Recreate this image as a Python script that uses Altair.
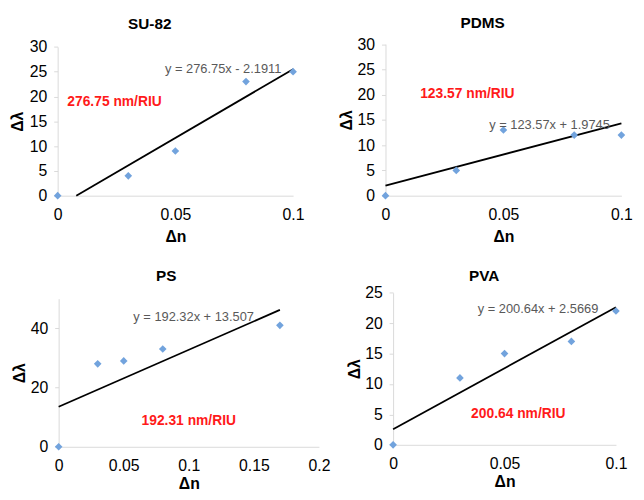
import altair as alt
import pandas as pd

# ---------------- data ----------------
materials = ["SU-82", "PDMS", "PS", "PVA"]
dn_values = [
    [0, 0.03, 0.05, 0.08, 0.1],
    [0, 0.03, 0.05, 0.08, 0.1],
    [0, 0.03, 0.05, 0.08, 0.17],
    [0, 0.03, 0.05, 0.08, 0.1],
]
dl_values = [
    [0, 4, 9, 23, 25],
    [0, 5, 13, 12, 12],
    [0, 28, 29, 33, 41],
    [0, 11, 15, 17, 22],
]
equations = [
    "y = 276.75x - 2.1911",
    "y = 123.57x + 1.9745",
    "y = 192.32x + 13.507",
    "y = 200.64x + 2.5669",
]
sensitivities = ["276.75 nm/RIU", "123.57 nm/RIU", "192.31 nm/RIU", "200.64 nm/RIU"]
x_domains = [[0, 0.1], [0, 0.1], [0, 0.2], [0, 0.1]]
y_domains = [[0, 30], [0, 30], [0, 50], [0, 25]]
x_ticks = [
    [0, 0.05, 0.1],
    [0, 0.05, 0.1],
    [0, 0.05, 0.1, 0.15, 0.2],
    [0, 0.05, 0.1],
]
y_ticks = [
    [0, 5, 10, 15, 20, 25, 30],
    [0, 5, 10, 15, 20, 25, 30],
    [0, 20, 40],
    [0, 5, 10, 15, 20, 25],
]
# trendline drawn range (x)
trend_extents = [[0.0079, 0.1], [0, 0.1], [0, 0.17], [0, 0.1]]
# annotation anchors in data units
title_pos = [(0.0391, 34.7), (0.0412, 34.2), (0.0827, 57.5), (0.0409, 27.7)]
eq_pos = [(0.0456, 25.5), (0.044, 14.0), (0.0574, 43.7), (0.038, 22.4)]
sens_pos = [(0.0041, 18.9), (0.0147, 20.2), (0.0637, 8.7), (0.035, 5.1)]

# ---------------- layout ----------------
W, H = 636, 484
x_ranges = [[50.3, 288.7], [382.3, 621.2], [51.3, 314.9], [390, 615.7]]
y_ranges = [[187, 36.3], [187, 33.5], [441.3, 291.3], [439.3, 285.3]]
y_title_pad = [4, 3, 3, 2]
x_title_pad = [6, 6, 2, 2]

FONT = "Liberation Sans"
AXIS_GRAY = "#d9d9d9"
POINT_BLUE = "#72a3dd"


def panel(i):
    xr, yr = x_ranges[i], y_ranges[i]
    x = alt.X(
        "dn:Q",
        scale=alt.Scale(domain=x_domains[i], range=xr, nice=False, zero=False),
        axis=alt.Axis(
            orient="bottom", offset=yr[0] - H, values=x_ticks[i], format="~r",
            title="Δn", grid=False, domainColor=AXIS_GRAY, tickSize=0,
            labelPadding=11, labelFlush=False, labelFont=FONT, labelFontSize=16,
            labelColor="black", titleFont=FONT, titleFontSize=16,
            titleFontWeight="bold", titleColor="black", titlePadding=x_title_pad[i],
            labelOverlap=False,
        ),
    )
    y = alt.Y(
        "dl:Q",
        scale=alt.Scale(domain=y_domains[i], range=yr, nice=False, zero=False),
        axis=alt.Axis(
            orient="left", offset=-xr[0], values=y_ticks[i], format="~r",
            title="Δλ", grid=False, domainColor=AXIS_GRAY, tickColor=AXIS_GRAY,
            tickSize=4, labelPadding=7, labelFont=FONT, labelFontSize=16,
            labelColor="black", titleFont=FONT, titleFontSize=16,
            titleFontWeight="bold", titleColor="black",
            titlePadding=y_title_pad[i], labelOverlap=False,
        ),
    )
    df = pd.DataFrame({"dn": dn_values[i], "dl": dl_values[i]})
    pts = alt.Chart(df).mark_point(
        shape="diamond", filled=True, size=60, color=POINT_BLUE, opacity=1
    ).encode(x=x, y=y)
    line = (
        alt.Chart(df)
        .transform_regression("dn", "dl", extent=trend_extents[i])
        .mark_line(color="black", strokeWidth=1.8)
        .encode(x=x, y=y)
    )

    def txt(pos, s, **kw):
        d = pd.DataFrame({"dn": [pos[0]], "dl": [pos[1]], "txt": [s]})
        return alt.Chart(d).mark_text(font=FONT, baseline="middle", **kw).encode(
            x=x, y=y, text="txt:N"
        )

    eq = txt(eq_pos[i], equations[i], fontSize=13, color="#595959", align="left")
    sens = txt(sens_pos[i], sensitivities[i], fontSize=14, fontWeight="bold",
               color="#ff1a1a", align="left")
    title = txt(title_pos[i], materials[i], fontSize=15.5, fontWeight="bold",
                color="black", align="center")
    return alt.layer(line, pts, eq, sens, title)


chart = (
    alt.layer(*[panel(i) for i in range(4)])
    .resolve_scale(x="independent", y="independent")
    .resolve_axis(x="independent", y="independent")
    .properties(width=W, height=H, autosize=alt.AutoSizeParams(type="none"), padding=0)
    .configure_view(stroke=None)
)

chart.save("out.html", embed_options={"renderer": "svg", "actions": False})
